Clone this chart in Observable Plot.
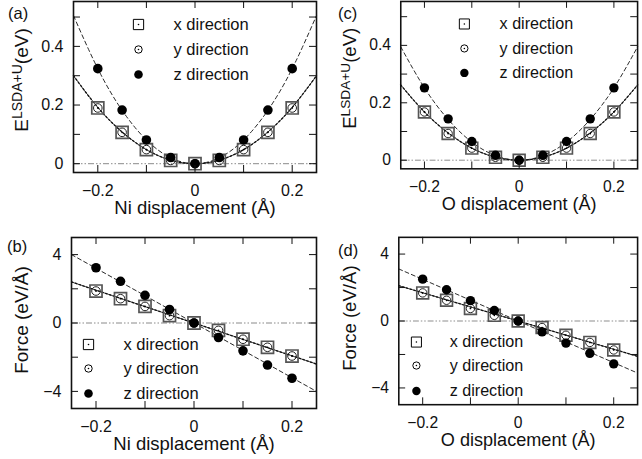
<!DOCTYPE html>
<html><head><meta charset="utf-8">
<script src="https://cdn.jsdelivr.net/npm/d3@7"></script>
<script src="https://cdn.jsdelivr.net/npm/@observablehq/plot@0.6"></script>
<style>
html,body{margin:0;padding:0;overflow:hidden;background:#fff;}
#root{position:relative;width:642px;height:459px;overflow:hidden;font-family:"Liberation Sans",Arial,sans-serif;}
.panel{position:absolute;}
.panel svg{overflow:visible;}
#labels{position:absolute;left:0;top:0;width:642px;height:459px;pointer-events:none;}
</style></head><body><div id="root"></div>
<script>
// ---- data ----
const disp = [-0.2,-0.15,-0.1,-0.05,0,0.05,0.1,0.15,0.2];
const fitGrid = [-0.25,-0.2,-0.15,-0.1,-0.05,0,0.05,0.1,0.15,0.2,0.25];
const lineGrid = [-0.25,0.25];
const directionLabels = ["x direction","y direction","z direction"];
const panelLetters = ["(a)","(b)","(c)","(d)"];

// (a) Ni displacement, energy
const niE_x = [0.190,0.107,0.048,0.011,0,0.011,0.048,0.107,0.190];
const niE_y = [0.190,0.107,0.048,0.011,0,0.011,0.048,0.107,0.190];
const niE_z = [0.324,0.183,0.081,0.021,0,0.021,0.081,0.183,0.324];
const niE_fitXY = [0.300,0.192,0.108,0.048,0.012,0,0.012,0.048,0.108,0.192,0.300];
const niE_fitZ  = [0.505,0.324,0.182,0.081,0.020,0,0.020,0.081,0.182,0.324,0.505];
// (b) Ni displacement, force
const niF_x = [1.87,1.42,0.97,0.43,0,-0.43,-0.95,-1.42,-1.93];
const niF_y = [1.87,1.42,0.97,0.43,0,-0.43,-0.95,-1.42,-1.93];
const niF_z = [3.23,2.44,1.62,0.79,0,-0.85,-1.63,-2.46,-3.23];
const niF_fitXY = [2.4,-2.4];
const niF_fitZ  = [4.0,-4.0];
// (c) O displacement, energy
const oE_x = [0.168,0.093,0.042,0.010,0,0.010,0.042,0.093,0.168];
const oE_y = [0.168,0.093,0.042,0.010,0,0.010,0.042,0.093,0.168];
const oE_z = [0.252,0.144,0.065,0.017,0,0.017,0.065,0.144,0.252];
const oE_fitXY = [0.262,0.168,0.095,0.042,0.0105,0,0.0105,0.042,0.095,0.168,0.262];
const oE_fitZ  = [0.395,0.252,0.142,0.063,0.016,0,0.016,0.063,0.142,0.252,0.395];
// (d) O displacement, force
const oF_x = [1.68,1.24,0.75,0.34,0,-0.39,-0.85,-1.28,-1.73];
const oF_y = [1.68,1.24,0.75,0.34,0,-0.39,-0.85,-1.28,-1.73];
const oF_z = [2.50,1.87,1.22,0.63,0,-0.65,-1.32,-1.93,-2.56];
const oF_fitXY = [2.11,-2.11];
const oF_fitZ  = [3.11,-3.11];

// ticks
const xTickLabels = [-0.2,0,0.2];
const xTicksAll = [-0.2,-0.1,0,0.1,0.2];
const eTickLabels = [0,0.2,0.4];
const eTicksAll = [0,0.1,0.2,0.3,0.4,0.5];
const fTickLabels = [-4,0,4];
const fTicksAll = [-4,-2,0,2,4];

const FONT = '"Liberation Sans", Arial, sans-serif';
const fmt = d => d === 0 ? "0" : (d < 0 ? "\u2212" : "") + (Math.abs(d) < 1 ? d3.format(".1f")(Math.abs(d)) : String(Math.abs(d)));
const pts = (xs, ys) => xs.map((x,i) => ({x, y: ys[i]}));

function panel(o) {
  const W = o.width, H = o.height;
  const fw = W - o.ml - o.mr, fh = H - o.mt - o.mb;
  const T = 7;
  const legendMarks = [];
  const rows = o.legend.rows;
  legendMarks.push(Plot.dot([0], {frameAnchor:"top-left", dx:o.legend.sx, dy:rows[0], symbol:"square", r:5.8, stroke:"#000", strokeWidth:1, fill:"none"}));
  legendMarks.push(Plot.dot([0], {frameAnchor:"top-left", dx:o.legend.sx, dy:rows[0], r:0.8, fill:"#000"}));
  legendMarks.push(Plot.dot([0], {frameAnchor:"top-left", dx:o.legend.sx, dy:rows[1], r:3.7, stroke:"#000", strokeWidth:1, fill:"none"}));
  legendMarks.push(Plot.dot([0], {frameAnchor:"top-left", dx:o.legend.sx, dy:rows[1], r:0.8, fill:"#000"}));
  legendMarks.push(Plot.dot([0], {frameAnchor:"top-left", dx:o.legend.sx, dy:rows[2], r:4.3, fill:"#000"}));
  directionLabels.forEach((t,i) => legendMarks.push(
    Plot.text([t], {frameAnchor:"top-left", dx:o.legend.tx, dy:rows[i], text:d=>d, textAnchor:"start", lineAnchor:"middle", fontSize:16.5, fill:"#111"})
  ));

  const fitLineXY = pts(o.fitGrid, o.fitXY), fitLineZ = pts(o.fitGrid, o.fitZ);
  const svg = Plot.plot({
    width: W, height: H,
    marginTop:o.mt, marginRight:o.mr, marginBottom:o.mb, marginLeft:o.ml,
    style:{fontFamily:FONT, overflow:"visible", background:"transparent"},
    x:{domain:[-0.25,0.25]},
    y:{domain:o.yDomain},
    marks:[
      Plot.ruleY([0], {stroke:"#8a8a8a", strokeWidth:1, strokeDasharray:"6,2,1.5,2,1.5,2"}),
      Plot.line(fitLineZ, {x:"x", y:"y", curve:o.curve, stroke:"#111", strokeWidth:0.9, strokeDasharray:"4,3"}),
      Plot.line(fitLineXY, {x:"x", y:"y", curve:o.curve, stroke:"#333", strokeWidth:0.9}),
      Plot.line(fitLineXY, {x:"x", y:"y", curve:o.curve, stroke:"#111", strokeWidth:1.3, strokeDasharray:"1.5,2.5"}),
      Plot.dot(pts(disp, o.xd), {x:"x", y:"y", symbol:"square", r:6.8, stroke:"#555", strokeWidth:1.7, fill:"none"}),
      Plot.dot(pts(disp, o.xd), {x:"x", y:"y", r:0.9, fill:"#000"}),
      Plot.dot(pts(disp, o.yd), {x:"x", y:"y", r:4.3, stroke:"#222", strokeWidth:1, fill:"none"}),
      Plot.dot(pts(disp, o.zd), {x:"x", y:"y", r:4.8, fill:"#000"}),
      Plot.frame({stroke:"#111", strokeWidth:1.6}),
      Plot.ruleX(xTicksAll, {x:d=>d, insetTop:fh-T, stroke:"#111", strokeWidth:1}),
      Plot.ruleX(xTicksAll, {x:d=>d, insetBottom:fh-T, stroke:"#111", strokeWidth:1}),
      Plot.ruleY(o.yTicksAll, {y:d=>d, insetRight:fw-T, stroke:"#111", strokeWidth:1}),
      Plot.ruleY(o.yTicksAll, {y:d=>d, insetLeft:fw-T, stroke:"#111", strokeWidth:1}),
      Plot.axisX({ticks:xTickLabels, tickSize:0, tickPadding:12, fontSize:16, label:null, tickFormat:fmt, fill:"#111"}),
      Plot.axisY({ticks:o.yTickLabels, tickSize:0, tickPadding:10, fontSize:16, label:null, tickFormat:fmt, fill:"#111"}),
      Plot.text([o.xTitle], {frameAnchor:"bottom", dy:36, text:d=>d, lineAnchor:"middle", fontSize:18.5, fill:"#111"}),
      ...legendMarks
    ]
  });
  const t = d3.select(svg).append("text")
    .attr("transform", `translate(${o.ylab.x},${o.ylab.y}) rotate(-90)`)
    .attr("text-anchor","middle")
    .attr("font-family", FONT)
    .attr("font-size", 19)
    .attr("fill","#111");
  o.yLabel.forEach(part => {
    const ts = t.append("tspan").text(part.text);
    if (part.sup) ts.attr("font-size", 14).attr("dy", "-0.45em");
    else if (part.after) ts.attr("dy", "0.33em");
  });
  const div = document.createElement("div");
  div.className = "panel";
  div.style.left = o.left + "px";
  div.style.top = o.top + "px";
  div.appendChild(svg);
  document.getElementById("root").appendChild(div);
}

const eLabel = [{text:"E"},{text:"LSDA+U", sup:true},{text:"(eV)", after:true}];
const fLabel = [{text:"Force (eV/\u00C5)"}];

panel({left:0, top:0, width:321, height:230, ml:73, mr:5, mt:1, mb:58,
  yDomain:[-0.03,0.553], yTickLabels:eTickLabels, yTicksAll:eTicksAll,
  xd:niE_x, yd:niE_y, zd:niE_z, fitGrid, fitXY:niE_fitXY, fitZ:niE_fitZ, curve:"natural",
  xTitle:"Ni displacement (\u00C5)", yLabel:eLabel, ylab:{x:28, y:80},
  legend:{sx:65, tx:100, rows:[23,48,73]}});
panel({left:0, top:230, width:321, height:229, ml:71, mr:5, mt:7, mb:51,
  yDomain:[-5,5], yTickLabels:fTickLabels, yTicksAll:fTicksAll,
  xd:niF_x, yd:niF_y, zd:niF_z, fitGrid:lineGrid, fitXY:niF_fitXY, fitZ:niF_fitZ, curve:"linear",
  xTitle:"Ni displacement (\u00C5)", yLabel:fLabel, ylab:{x:28, y:90},
  legend:{sx:17, tx:52, rows:[107,131,156]}});
panel({left:321, top:0, width:328, height:230, ml:81, mr:5, mt:1, mb:58,
  yDomain:[-0.03,0.553], yTickLabels:eTickLabels, yTicksAll:eTicksAll,
  xd:oE_x, yd:oE_y, zd:oE_z, fitGrid, fitXY:oE_fitXY, fitZ:oE_fitZ, curve:"natural",
  xTitle:"O displacement (\u00C5)", yLabel:eLabel, ylab:{x:36, y:80},
  legend:{sx:65, tx:101, rows:[23,48,73]}});
panel({left:321, top:230, width:328, height:229, ml:79, mr:5, mt:7, mb:51,
  yDomain:[-5,5], yTickLabels:fTickLabels, yTicksAll:fTicksAll,
  xd:oF_x, yd:oF_y, zd:oF_z, fitGrid:lineGrid, fitXY:oF_fitXY, fitZ:oF_fitZ, curve:"linear",
  xTitle:"O displacement (\u00C5)", yLabel:fLabel, ylab:{x:36, y:90},
  legend:{sx:18, tx:52, rows:[107,131,157]}});

const lab = d3.select("#root").append("svg").attr("id","labels").attr("width",642).attr("height",459);
const letterPos = [[8,18.5],[7,252],[338,18.5],[338,256]];
panelLetters.forEach((t,i) => lab.append("text").attr("x",letterPos[i][0]).attr("y",letterPos[i][1])
  .attr("font-family",FONT).attr("font-size",16.5).attr("fill","#111").text(t));
</script></body></html>
